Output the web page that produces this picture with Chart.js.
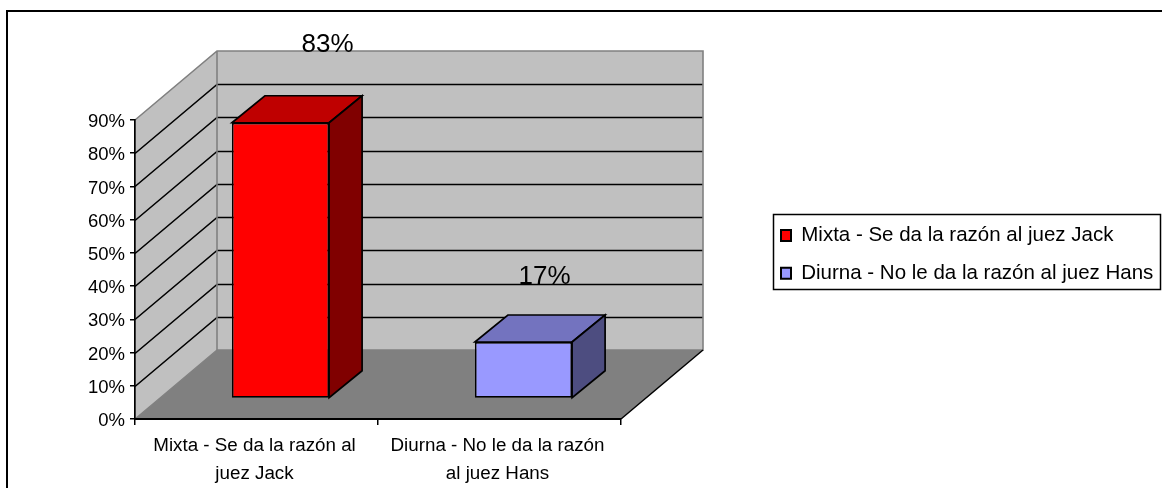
<!DOCTYPE html>
<html>
<head>
<meta charset="utf-8">
<style>html,body{margin:0;padding:0;background:#fff}canvas{display:block}</style>
<script src="https://cdn.jsdelivr.net/npm/chart.js@4"></script>
</head>
<body>
<canvas id="c" width="1162" height="488"></canvas>
<script>
const categories = [["Mixta - Se da la razón al","juez Jack"],["Diurna - No le da la razón","al juez Hans"]];
const legendLabels = ["Mixta - Se da la razón al juez Jack","Diurna - No le da la razón al juez Hans"];
const values = [83,17];
const valueLabels = ["83%","17%"];
const yTicks = [0,10,20,30,40,50,60,70,80,90];
const frontColors = ["#ff0000","#9999ff"];
const topColors = ["#bf0000","#7373bf"];
const sideColors = ["#800000","#4d4d80"];

const FONT = '"Liberation Sans", Arial, sans-serif';
const WALL = {dx:82, dy:-69};
const BAR_SHIFT = {dx:24, dy:-20.5};
const BAR_DEPTH = {dx:33, dy:-27};
const LABEL_OFFSET = [{dx:71,dy:-91},{dx:45,dy:-79}];
const LEGEND_PAD = 17.3;

function poly(ctx, pts, fill, stroke, lw){
  ctx.beginPath();
  pts.forEach((p,i)=> i?ctx.lineTo(p[0],p[1]):ctx.moveTo(p[0],p[1]));
  ctx.closePath();
  if(fill){ctx.fillStyle=fill;ctx.fill();}
  if(stroke){ctx.strokeStyle=stroke;ctx.lineWidth=lw;ctx.lineJoin='miter';ctx.stroke();}
}
function line(ctx, pts, stroke, lw){
  ctx.beginPath();
  pts.forEach((p,i)=> i?ctx.lineTo(p[0],p[1]):ctx.moveTo(p[0],p[1]));
  ctx.strokeStyle=stroke;ctx.lineWidth=lw;ctx.stroke();
}

const scene = {
  id:'scene',
  beforeLayout(chart){
    const lg = chart.legend;
    if(lg && !lg.__wrapped){
      const f = lg.fit;
      lg.fit = function(){ f.call(this); this.width=0; };
      lg.__wrapped = true;
    }
  },
  afterLayout(chart){
    const lg = chart.legend;
    lg.left=781-LEGEND_PAD; lg.right=1160; lg.top=208; lg.bottom=488; lg.width=lg.right-lg.left; lg.height=lg.bottom-lg.top;
  },
  beforeDraw(chart){
    const ctx=chart.ctx, x=chart.scales.x, y=chart.scales.y;
    const L=x.left, R=x.right, B=y.getPixelForValue(0), T=y.getPixelForValue(90);
    const dx=WALL.dx, dy=WALL.dy;
    ctx.save();
    ctx.fillStyle='#fff';ctx.fillRect(0,0,chart.width,chart.height);
    line(ctx,[[7,488],[7,11],[1162,11]],'#000',2);
    poly(ctx,[[L,B],[L+dx,B+dy],[L+dx,T+dy],[L,T]],'#c0c0c0');
    poly(ctx,[[L+dx,B+dy],[R+dx,B+dy],[R+dx,T+dy],[L+dx,T+dy]],'#c0c0c0');
    poly(ctx,[[L,B],[L+dx,B+dy],[R+dx,B+dy],[R,B]],'#808080');
    yTicks.forEach(v=>{
      if(v===0||v===90) return;
      const p=Math.round(y.getPixelForValue(v))+.5;
      line(ctx,[[L,p],[L+dx,p+dy],[R+dx,p+dy]],'#000',1.6);
    });
    line(ctx,[[L,T],[L+dx,T+dy],[R+dx,T+dy],[R+dx,B+dy],[L+dx,B+dy],[L+dx,T+dy]],'#808080',1.6);
    line(ctx,[[L,B],[L+dx,B+dy]],'#808080',1.2);
    line(ctx,[[R,B],[R+dx,B+dy]],'#000',1.5);
    ctx.restore();
  },
  beforeDatasetsDraw(chart){
    const ctx=chart.ctx;
    ctx.save();
    ctx.translate(BAR_SHIFT.dx,BAR_SHIFT.dy);
  },
  afterDatasetsDraw(chart){
    const ctx=chart.ctx, meta=chart.getDatasetMeta(0);
    meta.data.forEach((el,i)=>{
      const p=el.getProps(['x','y','base','width'],true);
      const l=p.x-p.width/2, r=p.x+p.width/2, t=p.y, b=p.base;
      const ddx=BAR_DEPTH.dx, ddy=BAR_DEPTH.dy;
      poly(ctx,[[l,t],[r,t],[r+ddx,t+ddy],[l+ddx,t+ddy]],topColors[i],'#000',1.7);
      poly(ctx,[[r,t],[r+ddx,t+ddy],[r+ddx,b+ddy],[r,b]],sideColors[i],'#000',1.7);
    });
    ctx.restore();
    ctx.save();
    ctx.fillStyle='#000';
    ctx.font='26px '+FONT;
    ctx.textAlign='center';
    ctx.textBaseline='alphabetic';
    meta.data.forEach((el,i)=>{
      ctx.fillText(valueLabels[i],el.x+LABEL_OFFSET[i].dx,el.y+LABEL_OFFSET[i].dy);
    });
    ctx.restore();
  },
  afterDraw(chart){
    const ctx=chart.ctx;
    ctx.save();
    ctx.strokeStyle='#000';ctx.lineWidth=1.5;
    ctx.strokeRect(773.5,214.5,387,75);
    ctx.restore();
  }
};

new Chart(document.getElementById('c'),{
  type:'bar',
  data:{labels:categories,datasets:[{
    label:'Serie',
    data:values,
    backgroundColor:frontColors,
    borderColor:'#000',
    borderWidth:1.7,
    borderSkipped:false,
    barPercentage:0.4,
    categoryPercentage:1
  }]},
  plugins:[scene],
  options:{
    responsive:false,
    animation:false,
    events:[],
    layout:{padding:{left:0,top:120,right:541,bottom:0}},
    plugins:{
      tooltip:{enabled:false},
      title:{display:false},
      legend:{
        display:true,
        position:'right',
        align:'start',
        labels:{
          font:{family:FONT,size:20.5},
          color:'#000',
          boxWidth:10,
          boxHeight:11,
          padding:LEGEND_PAD,
          generateLabels(){
            return legendLabels.map((t,i)=>({text:t,fillStyle:frontColors[i],strokeStyle:'#000',lineWidth:2,index:i,hidden:false}));
          }
        }
      }
    },
    scales:{
      x:{
        type:'category',
        offset:true,
        afterFit(s){s.height=69;},
        border:{display:true,color:'#000',width:2},
        grid:{display:true,drawOnChartArea:false,drawTicks:true,tickLength:6,color:'#000',lineWidth:1.5,offset:true},
        ticks:{color:'#000',maxRotation:0,minRotation:0,autoSkip:false,padding:7,labelOffset:-2,font:{family:FONT,size:18.8,lineHeight:1.5}}
      },
      y:{
        type:'linear',
        min:0,max:90,
        afterFit(s){s.width=135;},
        afterBuildTicks(s){s.ticks=yTicks.map(v=>({value:v}));},
        border:{display:true,color:'#000',width:1.7},
        grid:{display:true,drawOnChartArea:false,drawTicks:true,tickLength:5,color:'#000',lineWidth:1.5},
        ticks:{color:'#000',padding:5,labelOffset:2,font:{family:FONT,size:18.5},callback:v=>v+'%'}
      }
    }
  }
});
</script>
</body>
</html>
